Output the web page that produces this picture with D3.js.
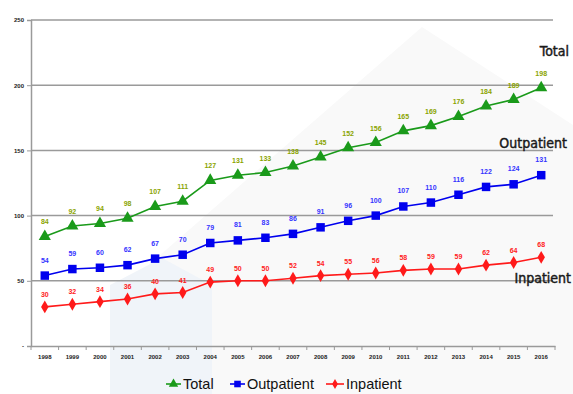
<!DOCTYPE html>
<html><head><meta charset="utf-8">
<script src="https://cdn.jsdelivr.net/npm/d3@7"></script>
<style>body{margin:0;background:#fff}svg{display:block}</style>
</head><body>
<script>
const years = ["1998","1999","2000","2001","2002","2003","2004","2005","2006","2007","2008","2009","2010","2011","2012","2013","2014","2015","2016"];
const total = [84,92,94,98,107,111,127,131,133,138,145,152,156,165,169,176,184,189,198];
const outpatient = [54,59,60,62,67,70,79,81,83,86,91,96,100,107,110,116,122,124,131];
const inpatient = [30,32,34,36,40,41,49,50,50,52,54,55,56,58,59,59,62,64,68];
const yTicks = [0,50,100,150,200,250];
const seriesNames = ["Total","Outpatient","Inpatient"];

const W=573,H=394;
const svg=d3.select("body").append("svg").attr("width",W).attr("height",H);

// faint background decoration
svg.append("polygon").attr("points","422,27 120,290 120,394 573,394 573,125").attr("fill","#f9f9f9");
svg.append("polygon").attr("points","162,258 212,285 212,394 110,394 110,285").attr("fill","#f0f4f9");

const x=d3.scaleBand().domain(years).range([31,555]);
const y=d3.scaleLinear().domain([0,250]).range([346,20]);

// gridlines
svg.append("g").selectAll("line").data(yTicks.filter(d=>d>0)).join("line")
  .attr("x1",31).attr("x2",553).attr("y1",d=>y(d)).attr("y2",d=>y(d))
  .attr("stroke","#9a9a9a").attr("stroke-width",1.5);

// y axis
const ya=svg.append("g").attr("transform","translate(31,0)")
  .call(d3.axisLeft(y).tickValues(yTicks).tickSize(4).tickFormat(d=>d===0?"-":d));
ya.select(".domain").attr("stroke","#9a9a9a").attr("stroke-width",1.5);
ya.selectAll(".tick line").attr("stroke","#9a9a9a");
ya.selectAll("text").attr("font-family","Liberation Sans, Arial").attr("font-size",6).attr("font-weight","bold").attr("fill","#222").attr("x",-7);

// x axis
const xa=svg.append("g").attr("transform","translate(0,346)")
  .call(d3.axisBottom(x).tickSize(0).tickPadding(9));
xa.select(".domain").attr("stroke","#9a9a9a").attr("stroke-width",1.5);
xa.selectAll("text").attr("font-family","Liberation Sans, Arial").attr("font-size",6).attr("font-weight","bold").attr("fill","#222");
const bounds=years.map(d=>x(d)).concat([x(years[years.length-1])+x.bandwidth()]);
xa.selectAll("line.b").data(bounds).join("line").attr("class","b")
  .attr("x1",d=>d).attr("x2",d=>d).attr("y1",0).attr("y2",4).attr("stroke","#9a9a9a");

const cx=d=>x(d)+x.bandwidth()/2;
const series=[
  {name:seriesNames[0],vals:total,color:"#1a9a1a",label:"#8aa400",sym:d3.symbolTriangle,size:64,dy:-12},
  {name:seriesNames[1],vals:outpatient,color:"#0000ee",label:"#3535ff",sym:d3.symbolSquare,size:72,dy:-13},
  {name:seriesNames[2],vals:inpatient,color:"#ff1a1a",label:"#ff2222",sym:d3.symbolDiamond,size:48,dy:-10}
];
const line=d3.line().x((d,i)=>cx(years[i])).y(d=>y(d));
series.forEach(s=>{
  const g=svg.append("g");
  g.append("path").datum(s.vals).attr("d",line).attr("fill","none").attr("stroke",s.color).attr("stroke-width",1.6);
  g.selectAll("path.m").data(s.vals).join("path").attr("class","m")
    .attr("transform",(d,i)=>`translate(${cx(years[i])},${y(d)})`)
    .attr("d",d3.symbol().type(s.sym).size(s.size)).attr("fill",s.color);
  g.selectAll("text").data(s.vals).join("text")
    .attr("x",(d,i)=>cx(years[i])).attr("y",d=>y(d)+s.dy)
    .attr("text-anchor","middle").attr("font-family","Liberation Sans, Arial").attr("font-size",7).attr("font-weight","bold")
    .attr("fill",s.label).text(d=>d);
});

// side labels (right-aligned)
const side=[{t:"Total",x:569,y:56},{t:"Outpatient",x:567,y:148},{t:"Inpatient",x:571,y:283}];
svg.selectAll("text.side").data(side).join("text").attr("class","side")
  .attr("x",d=>d.x).attr("y",d=>d.y).attr("text-anchor","end")
  .attr("font-family","DejaVu Sans Condensed, Liberation Sans, Arial")
  .attr("font-size",14).attr("fill","#1a1a1a").attr("stroke","#1a1a1a").attr("stroke-width",0.45)
  .text(d=>d.t);

// legend
const leg=[{x:166,tx:183},{x:230,tx:247},{x:326,tx:346}];
series.forEach((s,i)=>{
  const g=svg.append("g");
  g.append("line").attr("x1",leg[i].x).attr("x2",leg[i].tx-2).attr("y1",384).attr("y2",384).attr("stroke",s.color).attr("stroke-width",1.6);
  g.append("path").attr("transform",`translate(${(leg[i].x+leg[i].tx-2)/2},384)`).attr("d",d3.symbol().type(s.sym).size(s.size*0.6)).attr("fill",s.color);
  g.append("text").attr("x",leg[i].tx).attr("y",389).attr("font-family","Liberation Sans, Arial")
    .attr("font-size",14.5).attr("fill","#111").text(s.name);
});
</script>
</body></html>
